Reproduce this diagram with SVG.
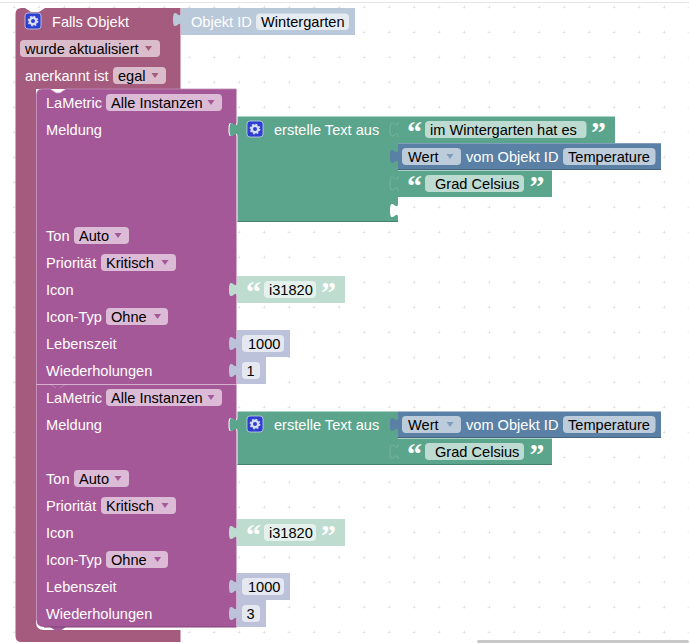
<svg xmlns="http://www.w3.org/2000/svg" width="689" height="643" viewBox="0 0 689 643">
<defs>
<pattern id="grid" x="0" y="0" width="25" height="25" patternUnits="userSpaceOnUse" patternTransform="translate(14 7)">
<path d="M-1.500 0H1.500M0-1.500V1.500M23.500 0H25M0 23.500V25" stroke="#d4d4d4" stroke-width="1" fill="none"/>
</pattern>
<g id="gear"><rect x="-8" y="-8" width="16" height="16" rx="3" fill="#2b3fd0" stroke="#c9cfe8" stroke-width=".8"/><circle r="3.200" fill="none" stroke="#d8dcf5" stroke-width="2.400"/><circle r="4.600" fill="none" stroke="#d8dcf5" stroke-width="1.600" stroke-dasharray="1.800 1.800"/></g>
<polygon id="arrow" points="-3.500,0 3.500,0 0,5"/>
</defs>
<style>
text{font-family:"Liberation Sans",Arial,sans-serif;font-size:14.600px}
.w{fill:#fff}
.k{fill:#000}
.q{font-family:"Liberation Serif","Times New Roman",serif;font-weight:bold;font-size:30px;fill:#fff}
.trig{fill:#a55b7d}
.la{fill:#a55898}
.gr{fill:#5ba58c}
.bl{fill:#5b80a5}
.lgr{fill:#bfdcd1}
.lbl{fill:#b9c9da}
.lma{fill:#bdc2db}
.ft{fill:#dbbccb}
.fl{fill:#dcbbd6}
.fg{fill:#bddbd1}
.fb{fill:#bdccdb}
.fo{fill:#e5ebf1}
.fi{fill:#e5f1ed}
.fm{fill:#e5e7f1}
.at{fill:#a55b7d}
.al{fill:#a55898}
.ab{fill:#7f9cba}
.dg{stroke:#47806d;stroke-width:1;fill:none}
.db{stroke:#47647f;stroke-width:1;fill:none}
.dl{stroke:#804576;stroke-width:1;fill:none}
.hg{stroke:#8cc0ae;stroke-width:.6;fill:none}
.hb{stroke:#8ca6c0;stroke-width:.8;fill:none}
.hl{stroke:#c08ab6;stroke-width:.8;fill:none}
</style>
<rect width="689" height="643" fill="#fff"/>
<rect width="689" height="643" fill="url(#grid)"/>
<rect x="0" y="2" width="689" height="1" fill="#e4e4e4"/>
<rect x="477" y="640" width="212" height="3" rx="1.500" fill="#c8c8c8"/>

<g id="trigger">
<path class="trig" d="M15.500 14q0-6 6-6h3.500l6 4h8l6-4H180.500V89H36V622q0 8 8 8H180.500V642H21.500q-6 0-6-6Z"/>
<use href="#gear" x="33" y="21"/>
<text class="w" x="52" y="27">Falls Objekt</text>
<rect class="ft" x="20" y="40" width="140" height="17" rx="4"/>
<text class="k" x="25" y="54">wurde aktualisiert</text>
<use href="#arrow" class="at" x="148.500" y="46"/>
<text class="w" x="25" y="81">anerkannt ist</text>
<rect class="ft" x="113" y="67" width="53" height="17" rx="4"/>
<text class="k" x="118" y="81">egal</text>
<use href="#arrow" class="at" x="155" y="73"/>
</g>

<g id="objekt-id">
<path class="lbl" d="M181 8H355V35H181V27c0-10-8 8-8-7.500s8 2.500 8-7.500Z"/>
<text class="w" x="191" y="27">Objekt ID</text>
<rect class="fo" x="256" y="13.500" width="93" height="16.500" rx="4"/>
<text class="k" x="261" y="27">Wintergarten</text>
</g>

<g id="lametric-1">
<path class="la" d="M36.500 95q0-6 6-6h7.500l6 4h4l6-4H236.500V122c0 10-8-8-8 7.500s8-2.500 8 7.500V384H66l-6 4h-4l-6-4H36.500Z"/>
<path class="hl" d="M36.500 384V95q0-6 6-6h7.500l6 4h4l6-4H236.500"/>
<text class="w" x="46" y="108">LaMetric</text>
<rect class="fl" x="106" y="94" width="116" height="17" rx="4"/>
<text class="k" x="111" y="108">Alle Instanzen</text>
<use href="#arrow" class="al" x="211" y="100"/>
<text class="w" x="46" y="135">Meldung</text>
<text class="w" x="46" y="240.500">Ton</text>
<rect class="fl" x="74" y="227" width="55" height="17" rx="4"/>
<text class="k" x="79" y="241">Auto</text>
<use href="#arrow" class="al" x="118" y="233"/>
<text class="w" x="46" y="267.500">Priorität</text>
<rect class="fl" x="101" y="254" width="75" height="17" rx="4"/>
<text class="k" x="106" y="268">Kritisch</text>
<use href="#arrow" class="al" x="165" y="260"/>
<text class="w" x="46" y="294.500">Icon</text>
<text class="w" x="46" y="321.500">Icon-Typ</text>
<rect class="fl" x="106" y="308" width="62" height="17" rx="4"/>
<text class="k" x="111" y="322">Ohne</text>
<use href="#arrow" class="al" x="157.500" y="314"/>
<text class="w" x="46" y="348.500">Lebenszeit</text>
<text class="w" x="46" y="375.500">Wiederholungen</text>
</g>

<g id="text-1">
<path class="gr" d="M237.500 116.500H398V203c0 10-8-8-8 7.500s8-2.500 8 7.500V222H237.500V137c0-10-8 8-8-7.500s8 2.500 8-7.500Z"/>
<path class="dg" d="M237.500 221.500H398"/>
<use href="#gear" x="255" y="129"/>
<text class="w" x="274" y="135">erstelle Text aus</text>
</g>

<g id="quote-1a">
<path class="gr" d="M398 116.500H615V143H398V137c0-10-8 8-8-7.500s8 2.500 8-7.500Z"/>
<path class="hg" d="M398 137c0-10-8 8-8-7.500s8 2.500 8-7.500"/>
<text class="q" x="407" y="142">“</text>
<rect class="fg" x="425" y="121" width="161.500" height="17" rx="4"/>
<text class="k" x="430" y="135">im Wintergarten hat es</text>
<text class="q" x="591" y="142">”</text>
</g>
<g id="wert-1">
<path class="bl" d="M398 143H661V170H398V164c0-10-8 8-8-7.500s8 2.500 8-7.500Z"/>
<path class="hb" d="M398 143.500H661"/>
<path class="db" d="M398 169.500H661"/>
<rect class="fb" x="402" y="148" width="59" height="17" rx="4"/>
<text class="k" x="408" y="162">Wert</text>
<use href="#arrow" class="ab" x="450" y="154"/>
<text class="w" x="466" y="162">vom Objekt ID</text>
<rect class="fb" x="563" y="148" width="92.500" height="17" rx="4"/>
<text class="k" x="568" y="162">Temperature</text>
</g>
<g id="quote-1b">
<path class="gr" d="M398 170.500H552V197H398V191c0-10-8 8-8-7.500s8 2.500 8-7.500Z"/>
<path class="hg" d="M398 191c0-10-8 8-8-7.500s8 2.500 8-7.500"/>
<text class="q" x="407" y="196">“</text>
<rect class="fg" x="425" y="175" width="99" height="17" rx="4"/>
<text class="k" x="435" y="189">Grad Celsius</text>
<text class="q" x="529.500" y="196">”</text>
</g>

<g id="icon-1">
<path class="lgr" d="M237 276H345V303H237V297c0-10-8 8-8-7.500s8 2.500 8-7.500Z"/>
<text class="q" x="246" y="302">“</text>
<rect class="fi" x="264" y="281" width="52" height="17" rx="4"/>
<text class="k" x="269" y="295">i31820</text>
<text class="q" x="321" y="302">”</text>
</g>
<g id="zeit-1">
<path class="lma" d="M237 330H290V357H237V351c0-10-8 8-8-7.500s8 2.500 8-7.500Z"/>
<rect class="fm" x="242" y="335" width="42" height="17" rx="4"/>
<text class="k" x="248" y="349">1000</text>
</g>
<g id="wdh-1">
<path class="lma" d="M237 357H266V384H237V378c0-10-8 8-8-7.500s8 2.500 8-7.500Z"/>
<rect class="fm" x="242" y="362" width="18" height="17" rx="4"/>
<text class="k" x="246.500" y="376">1</text>
</g>

<g id="lametric-2">
<path class="la" d="M36.500 384H50l6 4h4l6-4H236.500V417c0 10-8-8-8 7.500s8-2.500 8 7.500V627H66l-6 4h-4l-6-4H44q-7.500 0-7.500-7Z"/>
<path class="hl" d="M36.500 620V384"/>
<path d="M36.500 384.500H236.500" stroke="#fff" stroke-width=".7" opacity=".75" fill="none"/>
<path class="dl" d="M44 627H236.500"/>
<text class="w" x="46" y="403">LaMetric</text>
<rect class="fl" x="106" y="389" width="116" height="17" rx="4"/>
<text class="k" x="111" y="403">Alle Instanzen</text>
<use href="#arrow" class="al" x="211" y="395"/>
<text class="w" x="46" y="430">Meldung</text>
<text class="w" x="46" y="483.500">Ton</text>
<rect class="fl" x="74" y="470" width="55" height="17" rx="4"/>
<text class="k" x="79" y="484">Auto</text>
<use href="#arrow" class="al" x="118" y="476"/>
<text class="w" x="46" y="510.500">Priorität</text>
<rect class="fl" x="101" y="497" width="75" height="17" rx="4"/>
<text class="k" x="106" y="511">Kritisch</text>
<use href="#arrow" class="al" x="165" y="503"/>
<text class="w" x="46" y="537.500">Icon</text>
<text class="w" x="46" y="564.500">Icon-Typ</text>
<rect class="fl" x="106" y="551" width="62" height="17" rx="4"/>
<text class="k" x="111" y="565">Ohne</text>
<use href="#arrow" class="al" x="157.500" y="557"/>
<text class="w" x="46" y="591.500">Lebenszeit</text>
<text class="w" x="46" y="618.500">Wiederholungen</text>
</g>

<g id="text-2">
<path class="gr" d="M237.500 411.500H398V465H237.500V432c0-10-8 8-8-7.500s8 2.500 8-7.500Z"/>
<path class="dg" d="M237.500 464.500H398"/>
<use href="#gear" x="255" y="424"/>
<text class="w" x="274" y="430">erstelle Text aus</text>
</g>
<g id="wert-2">
<path class="bl" d="M398 411.500H661V438H398V432c0-10-8 8-8-7.500s8 2.500 8-7.500Z"/>
<path class="db" d="M398 437.500H661"/>
<rect class="fb" x="402" y="416" width="59" height="17" rx="4"/>
<text class="k" x="408" y="430">Wert</text>
<use href="#arrow" class="ab" x="450" y="422"/>
<text class="w" x="466" y="430">vom Objekt ID</text>
<rect class="fb" x="563" y="416" width="92.500" height="17" rx="4"/>
<text class="k" x="568" y="430">Temperature</text>
</g>
<g id="quote-2">
<path class="gr" d="M398 438.500H552V465H398V459c0-10-8 8-8-7.500s8 2.500 8-7.500Z"/>
<path class="hg" d="M398 459c0-10-8 8-8-7.500s8 2.500 8-7.500"/>
<path class="dg" d="M398 464.500H552"/>
<text class="q" x="407" y="464">“</text>
<rect class="fg" x="425" y="443" width="99" height="17" rx="4"/>
<text class="k" x="435" y="457">Grad Celsius</text>
<text class="q" x="529.500" y="464">”</text>
</g>

<g id="icon-2">
<path class="lgr" d="M237 519H345V546H237V540c0-10-8 8-8-7.500s8 2.500 8-7.500Z"/>
<text class="q" x="246" y="545">“</text>
<rect class="fi" x="264" y="524" width="52" height="17" rx="4"/>
<text class="k" x="269" y="538">i31820</text>
<text class="q" x="321" y="545">”</text>
</g>
<g id="zeit-2">
<path class="lma" d="M237 573H290V600H237V594c0-10-8 8-8-7.500s8 2.500 8-7.500Z"/>
<rect class="fm" x="242" y="578" width="42" height="17" rx="4"/>
<text class="k" x="248" y="592">1000</text>
</g>
<g id="wdh-2">
<path class="lma" d="M237 600H266V627H237V621c0-10-8 8-8-7.500s8 2.500 8-7.500Z"/>
<rect class="fm" x="242" y="605" width="18" height="17" rx="4"/>
<text class="k" x="246.500" y="619">3</text>
</g>
</svg>
